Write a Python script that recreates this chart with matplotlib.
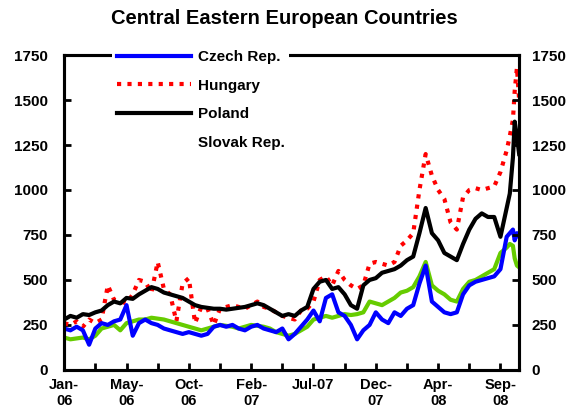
import matplotlib
matplotlib.use('Agg')
import matplotlib.pyplot as plt
import pandas as pd

plt.rcParams['font.family'] = ['Liberation Sans', 'DejaVu Sans']
plt.rcParams['font.weight'] = 'bold'

# sample dates: every 10 business days, plus the last days of the sell-off
dates = list(pd.bdate_range('2006-01-02', periods=72, freq='10B'))
dates += list(pd.to_datetime(['2008-09-29', '2008-10-06', '2008-10-10',
                              '2008-10-15', '2008-10-20']))

czech = [230, 220, 240, 220, 140, 230, 260, 250, 270, 280,
         360, 190, 260, 280, 260, 250, 230, 220, 210, 200,
         210, 200, 190, 200, 240, 250, 240, 250, 230, 220,
         240, 250, 230, 220, 210, 230, 170, 200, 240, 280,
         330, 270, 400, 420, 320, 300, 250, 170, 220, 250,
         320, 280, 260, 320, 300, 340, 360, 480, 580, 380,
         350, 320, 310, 320, 420, 470, 490, 500, 510, 520,
         560, 740, 760, 780, 720, 760, 740]

hungary = [260, 250, 270, 240, 280, 260, 280, 470, 390, 380,
           370, 420, 500, 490, 430, 600, 450, 420, 270, 480,
           510, 260, 350, 340, 250, 340, 350, 360, 350, 340,
           360, 380, 350, 340, 320, 300, 290, 280, 330, 340,
           380, 500, 520, 470, 550, 500, 470, 450, 470, 590,
           600, 590, 580, 600, 690, 720, 760, 1000, 1200, 1080,
           1000, 950, 820, 780, 960, 1000, 1010, 1000, 1010, 1020,
           1100, 1220, 1300, 1390, 1550, 1680, 1500]

poland = [280, 300, 290, 310, 305, 320, 330, 360, 380, 370,
          400, 395, 420, 440, 460, 450, 430, 420, 410, 400,
          380, 360, 350, 345, 340, 340, 335, 340, 345, 350,
          360, 370, 360, 340, 320, 300, 310, 300, 330, 350,
          450, 490, 500, 450, 460, 420, 360, 340, 470, 500,
          510, 540, 550, 560, 580, 610, 630, 760, 900, 760,
          720, 650, 630, 610, 700, 780, 840, 870, 850, 850,
          740, 900, 980, 1180, 1380, 1300, 1200]

slovak = [180, 170, 175, 180, 170, 190, 230, 240, 250, 220,
          260, 270, 280, 280, 290, 285, 280, 270, 260, 250,
          240, 230, 220, 230, 240, 250, 245, 240, 230, 240,
          250, 245, 240, 230, 210, 200, 190, 200, 220, 240,
          280, 290, 300, 290, 300, 310, 305, 310, 320, 380,
          370, 360, 380, 400, 430, 440, 460, 520, 600, 470,
          440, 420, 390, 380, 450, 490, 500, 520, 540, 560,
          650, 680, 700, 690, 620, 580, 570]

tick_labels = ['Jan-\n06', 'May-\n06', 'Oct-\n06', 'Feb-\n07', 'Jul-07',
               'Dec-\n07', 'Apr-\n08', 'Sep-\n08']
yticks = [0, 250, 500, 750, 1000, 1250, 1500, 1750]

fig = plt.figure(figsize=(5.68, 4.11), dpi=100)
ax = fig.add_axes([0.113, 0.100, 0.801, 0.766])

ax.plot(dates, hungary, color='red', lw=3, linestyle=(0, (1, 1.5)), label='Hungary', zorder=2)
ax.plot(dates, poland, color='black', lw=3, label='Poland', zorder=3)
ax.plot(dates, slovak, color='#66cc00', lw=3, label='Slovak Rep.', zorder=4)
ax.plot(dates, czech, color='blue', lw=3, label='Czech Rep.', zorder=5)

ax.set_xlim(pd.Timestamp('2006-01-02'), pd.Timestamp('2008-10-20'))
ax.set_ylim(0, 1750)
ax.set_yticks(yticks)

xt = pd.bdate_range('2006-01-02', periods=15, freq='50B')
ax.set_xticks(xt)
lab = []
for k in range(len(xt)):
    lab.append(tick_labels[k // 2] if k % 2 == 0 else '')
ax.set_xticklabels(lab, fontsize=10.5, fontweight='bold', linespacing=1.15,
                   verticalalignment='top')
ax.tick_params(axis='x', direction='in', length=5, width=2, pad=6)
ax.tick_params(axis='y', direction='in', length=5, width=2, pad=12, labelsize=11)
for s in ax.spines.values():
    s.set_linewidth(2.2)

ax2 = ax.twinx()
ax2.set_ylim(0, 1750)
ax2.set_yticks(yticks)
ax2.tick_params(axis='y', direction='in', length=5, width=2, pad=9, labelsize=11)
for s in ax2.spines.values():
    s.set_linewidth(2.2)

# legend goes on the twin axes so its white box sits over the top frame
h, l = ax.get_legend_handles_labels()
order = [3, 0, 1, 2]
leg = ax2.legend([h[i] for i in order], [l[i] for i in order], loc='upper left',
                 bbox_to_anchor=(0.105, 1.03), fontsize=11, handlelength=4.9,
                 handletextpad=0.4, labelspacing=0.95, borderaxespad=0,
                 borderpad=0.3,
                 frameon=True, facecolor='white', edgecolor='none', framealpha=1)
leg.legend_handles[3].set_visible(False)
leg.set_zorder(10)

fig.suptitle('Central Eastern European Countries', fontsize=14.5, fontweight='bold', y=0.977)

fig.savefig('out.png', dpi=100)
